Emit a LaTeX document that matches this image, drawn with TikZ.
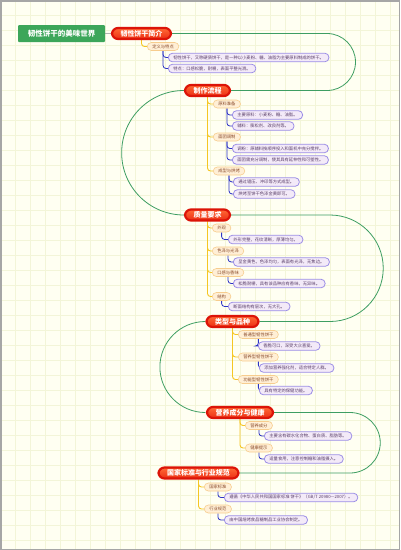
\documentclass[tikz,border=0pt]{standalone}
\usepackage{fontspec}
\setmainfont{Noto Sans CJK SC}
\definecolor{bgc}{HTML}{FFFFF2}
\definecolor{gridc}{HTML}{F3F5D8}
\definecolor{rootg}{HTML}{3CA65A}
\definecolor{tred}{HTML}{DC1408}
\definecolor{torange}{HTML}{FF6A35}
\definecolor{tred2}{HTML}{EC2E14}
\definecolor{subfill}{HTML}{FFEFD6}
\definecolor{subdraw}{HTML}{F7CD8E}
\definecolor{subtext}{HTML}{8A4A2A}
\definecolor{leaffill}{HTML}{F3EAF8}
\definecolor{leafdraw}{HTML}{9C8EE6}
\definecolor{leaftext}{HTML}{5A3F6A}
\definecolor{yel}{HTML}{F5C623}
\definecolor{blu}{HTML}{2D33C4}
\definecolor{arcg}{HTML}{3E9E62}
\pgfdeclarelayer{bg}
\pgfsetlayers{bg,main}
\begin{document}
\begin{tikzpicture}[x=1pt,y=-1pt,
  rootbox/.style={fill=rootg, text=white, rounded corners=1pt, font=\bfseries\fontsize{7.5}{8}\selectfont, minimum width=87pt, minimum height=17pt, inner sep=0pt},
  topic/.style={draw=tred, line width=2.2pt, top color=torange, bottom color=tred2, rounded corners=6pt, text=white, font=\bfseries\fontsize{7}{8}\selectfont, minimum height=11pt, inner xsep=8.5pt, inner ysep=0pt},
  subbox/.style={draw=subdraw, line width=0.6pt, fill=subfill, rounded corners=4pt, text=subtext, font=\fontsize{4.3}{5}\selectfont, minimum height=8pt, inner xsep=5pt, inner ysep=0pt, anchor=west},
  leaf/.style={draw=leafdraw, line width=0.8pt, fill=leaffill, rounded corners=4pt, text=leaftext, font=\fontsize{4.3}{5}\selectfont, minimum height=8.5pt, inner xsep=5pt, inner ysep=0pt, anchor=west},
  arcline/.style={draw=arcg, line width=0.8pt},
  yline/.style={draw=yel, line width=0.9pt, rounded corners=3pt},
  bline/.style={draw=blu, line width=0.8pt, rounded corners=3pt}
]
\useasboundingbox (0,0) rectangle (400,550);
\begin{pgfonlayer}{bg}
\fill[bgc] (0,0) rectangle (400,550);
\foreach \i in {0,15,...,400} \draw[gridc, line width=0.7pt] (\i,0) -- (\i,550);
\foreach \j in {0,15,...,550} \draw[gridc, line width=0.7pt] (0,\j) -- (400,\j);
\end{pgfonlayer}
\draw[gray!70, line width=1.5pt] (0.75,0.75) rectangle (399.25,549.25);

% root and topics
\node[rootbox] (root) at (61.5,33.5) {韧性饼干的美味世界};
\node[topic] (t1) at (141.5,33.5) {韧性饼干简介};
\node[topic] (t2) at (207.5,90.5) {制作流程};
\node[topic] (t3) at (207.5,215) {质量要求};
\node[topic] (t4) at (232.5,321.5) {类型与品种};
\node[topic] (t5) at (240,412.5) {营养成分与健康};
\node[topic] (t6) at (198.5,473) {国家标准与行业规范};

% topic 1
\node[subbox] (s11) at (147,46.5) {定义与特点};
\node[leaf] (l111) at (168,57.5) {韧性饼干，又称硬质饼干，是一种以小麦粉、糖、油脂为主要原料制成的饼干。};
\node[leaf] (l112) at (168,68.5) {特点：口感松脆，耐嚼，表面平整光滑。};
% topic 2
\node[subbox] (s21) at (213,104) {原料准备};
\node[leaf] (l211) at (232,115) {主要原料：小麦粉、糖、油脂。};
\node[leaf] (l212) at (232,126) {辅料：膨松剂、改良剂等。};
\node[subbox] (s22) at (213,137) {面团调制};
\node[leaf] (l221) at (232,148.5) {调粉：原辅料按顺序投入和面机中充分搅拌。};
\node[leaf] (l222) at (232,160) {面团需充分调制，使其具有延伸性和可塑性。};
\node[subbox] (s23) at (213,171) {成型与烘烤};
\node[leaf] (l231) at (233,182) {通过辊压、冲印等方式成型。};
\node[leaf] (l232) at (233,194) {烘烤至饼干色泽金黄即可。};
% topic 3
\node[subbox] (s31) at (212,228) {外观};
\node[leaf] (l311) at (228,239.5) {外形完整，花纹清晰，厚薄均匀。};
\node[subbox] (s32) at (212,251) {色泽与光泽};
\node[leaf] (l321) at (233,262) {呈金黄色，色泽均匀，表面有光泽，无焦边。};
\node[subbox] (s33) at (212,272.5) {口感与香味};
\node[leaf] (l331) at (233,283.5) {松脆耐嚼，具有该品种应有香味，无异味。};
\node[subbox] (s34) at (212,296.5) {结构};
\node[leaf] (l341) at (228,306.5) {断面结构有层次，无大孔。};
% topic 4
\node[subbox] (s41) at (238,334.5) {普通型韧性饼干};
\node[leaf] (l411) at (258,346) {香脆可口，深受大众喜爱。};
\node[subbox] (s42) at (238,357) {营养型韧性饼干};
\node[leaf] (l421) at (259,368) {添加营养强化剂，适合特定人群。};
\node[subbox] (s43) at (238,379.5) {功能型韧性饼干};
\node[leaf] (l431) at (259,390.5) {具有特定的保健功能。};
% topic 5
\node[subbox] (s51) at (245,425.5) {营养成分};
\node[leaf] (l511) at (264,436) {主要含有碳水化合物、蛋白质、脂肪等。};
\node[subbox] (s52) at (245,448) {健康提示};
\node[leaf] (l521) at (264,459) {适量食用，注意控制糖和油脂摄入。};
% topic 6
\node[subbox] (s61) at (204,487) {国家标准};
\node[leaf] (l611) at (224,497.5) {遵循《中华人民共和国国家标准 饼干》（GB/T 20980—2007）。};
\node[subbox] (s62) at (204,509) {行业规范};
\node[leaf] (l621) at (224,520) {由中国焙烤食品糖制品工业协会制定。};

\begin{pgfonlayer}{bg}
% main flow
\draw[gray!60, line width=0.8pt] (root.east) -- (t1.west);
\draw[arcline] (t1.east) -- (327,33.5) arc[start angle=-90, end angle=90, radius=28.5] -- (t2.east);
\draw[arcline] (t2.west) arc[start angle=-90, end angle=-270, radius=62.25];
\draw[arcline] (t3.east) -- (330,215) arc[start angle=-90, end angle=90, radius=53.25] -- (t4.east);
\draw[arcline] (t4.west) arc[start angle=-90, end angle=-270, radius=45.5];
\draw[arcline] (t5.east) -- (350,412.5) arc[start angle=-90, end angle=90, radius=30.25] -- (t6.east);
% yellow
\foreach \t/\s in {t1/s11,t2/s21,t2/s22,t2/s23,t3/s31,t3/s32,t3/s33,t3/s34,t4/s41,t4/s42,t4/s43,t5/s51,t5/s52,t6/s61,t6/s62}
  \draw[yline] (\t.south) |- (\s.west);
% blue
\foreach \s/\l in {s11/l111,s11/l112,s21/l211,s21/l212,s22/l221,s22/l222,s23/l231,s23/l232,s31/l311,s32/l321,s33/l331,s34/l341,s41/l411,s42/l421,s43/l431,s51/l511,s52/l521,s61/l611,s62/l621}
  \draw[bline] (\s.south) |- (\l.west);
\end{pgfonlayer}
\end{tikzpicture}
\end{document}
